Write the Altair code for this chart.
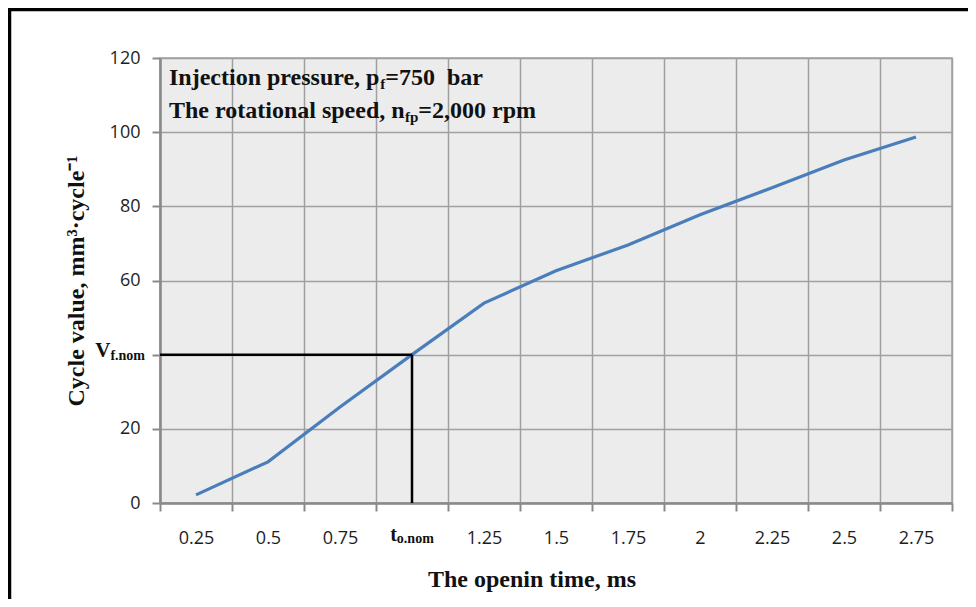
import altair as alt
import pandas as pd

# ---------------- data ----------------
times = ["0.25", "0.5", "0.75", "1", "1.25", "1.5", "1.75", "2", "2.25", "2.5", "2.75"]
cycle_values = [2.2, 11.1, 25.9, 40.0, 53.9, 62.6, 69.6, 77.7, 85.0, 92.5, 98.7]
y_ticks = [0, 20, 40, 60, 80, 100, 120]
nominal_time = ["1"]
nominal_value = [40]

line1 = [("Injection pressure, p", "main"), ("f", "sub"), ("=750\u00a0 bar", "main")]
line2 = [("The rotational speed, n", "main"), ("fp", "sub"), ("=2,000 rpm", "main")]

df = pd.DataFrame({"t": times, "v": cycle_values})
nom = pd.DataFrame({"t": nominal_time, "v": nominal_value})

# ---------------- style ----------------
W, H = 792, 445
SERIF = "Liberation Serif"
SANS = "Open Sans"
BLUE = "#4a7ebb"
MAIN, SUB = 24, 15

TNR_B = {
    'a': .5, 'b': .556, 'c': .444, 'd': .556, 'e': .444, 'f': .333, 'g': .5, 'h': .556,
    'i': .278, 'j': .333, 'k': .556, 'l': .278, 'm': .833, 'n': .556, 'o': .5, 'p': .556,
    'q': .556, 'r': .444, 's': .389, 't': .333, 'u': .556, 'v': .5, 'w': .722, 'x': .5,
    'y': .5, 'z': .444, 'T': .667, 'I': .389, 'V': .722, ',': .25, '.': .25, ' ': .25,
    '\u00a0': .25, '=': .57,
}


def tw(s, size):
    return sum(TNR_B.get(c, 0.5) for c in s) * size


x_scale = alt.Scale(type="band", domain=times, paddingInner=0, paddingOuter=0)
y_scale = alt.Scale(domain=[0, 120], nice=False, zero=True)

x_axis = alt.Axis(
    title="The openin time, ms", tickBand="extent", labelAngle=0, labelPadding=18,
    labelExpr="datum.value == '1' ? '' : datum.label",
    titleX=371.5, titleY=83, titleBaseline="alphabetic", titleAlign="center",
)
y_axis = alt.Axis(
    title="Cycle value, mm\u00b3\u00b7cycle\u207b\u00b9", values=y_ticks, labelPadding=12,
    labelExpr="datum.value == 40 ? '' : datum.label",
    titleX=-77, titleY=H / 2, titleBaseline="alphabetic", titleAlign="center",
)


def X():
    return alt.X("t:N", scale=x_scale, axis=x_axis, bandPosition=0.5)


def Y():
    return alt.Y("v:Q", scale=y_scale, axis=y_axis)


frame = alt.Chart(nom).mark_rect(fillOpacity=0, stroke="black", strokeWidth=3.5).encode(
    x=alt.value(-150.5), x2=alt.value(900), y=alt.value(-48.5), y2=alt.value(700)
)

curve = alt.Chart(df).mark_line(color=BLUE, strokeWidth=3.2).encode(x=X(), y=Y())

h_rule = alt.Chart(nom).mark_rule(color="black", strokeWidth=2.5).encode(
    x=X(), x2=alt.value(0), y=Y()
)
v_rule = alt.Chart(nom).mark_rule(color="black", strokeWidth=2.5).encode(
    x=X(), y=Y(), y2=alt.datum(0)
)

v_big = alt.Chart(nom).mark_text(
    text="V", font=SERIF, fontWeight="bold", fontSize=21, align="right",
    baseline="alphabetic", dy=2, color="#111"
).encode(x=alt.value(-15 - tw("f.nom", 14)), y=Y())
v_sub = alt.Chart(nom).mark_text(
    text="f.nom", font=SERIF, fontWeight="bold", fontSize=14, align="right",
    baseline="alphabetic", dy=5.5, color="#111"
).encode(x=alt.value(-15), y=Y())

grp = tw("t", 20) + tw("o.nom", 14)
t_big = alt.Chart(nom).mark_text(
    text="t", font=SERIF, fontWeight="bold", fontSize=20, align="left",
    baseline="alphabetic", dx=-grp / 2, dy=38, color="#111"
).encode(x=X(), y=alt.datum(0))
t_sub = alt.Chart(nom).mark_text(
    text="o.nom", font=SERIF, fontWeight="bold", fontSize=14, align="left",
    baseline="alphabetic", dx=-grp / 2 + tw("t", 20), dy=40, color="#111"
).encode(x=X(), y=alt.datum(0))

annots = []
for segs, base in ((line1, 27), (line2, 60)):
    x0 = 9
    for txt, kind in segs:
        size = MAIN if kind == "main" else SUB
        dy = 0 if kind == "main" else 4
        annots.append(
            alt.Chart(nom).mark_text(
                text=txt, font=SERIF, fontWeight="bold", fontSize=size, align="left",
                baseline="alphabetic", dy=dy, color="#111"
            ).encode(x=alt.value(x0), y=alt.value(base))
        )
        x0 += tw(txt, size)

chart = alt.layer(curve, h_rule, v_rule, v_big, v_sub, t_big, t_sub, *annots, frame).properties(
    width=W, height=H,
    autosize=alt.AutoSizeParams(type="none"),
    padding={"left": 152, "top": 50, "right": 16, "bottom": 96},
    background="white",
).configure_view(
    fill="#ececec", stroke="#a0a0a0", strokeWidth=1.5
).configure_axis(
    grid=True, gridColor="#a0a0a0", gridWidth=1.5,
    domainColor="#8a8a8a", domainWidth=2.5,
    tickColor="#8a8a8a", tickWidth=2, tickSize=8,
    labelFont=SANS, labelFontSize=18, labelColor="#1e1e1e",
    titleFont=SERIF, titleFontWeight="bold", titleFontSize=24, titleColor="#111",
)

chart.save("out.html", embed_options={"renderer": "svg", "actions": False})
